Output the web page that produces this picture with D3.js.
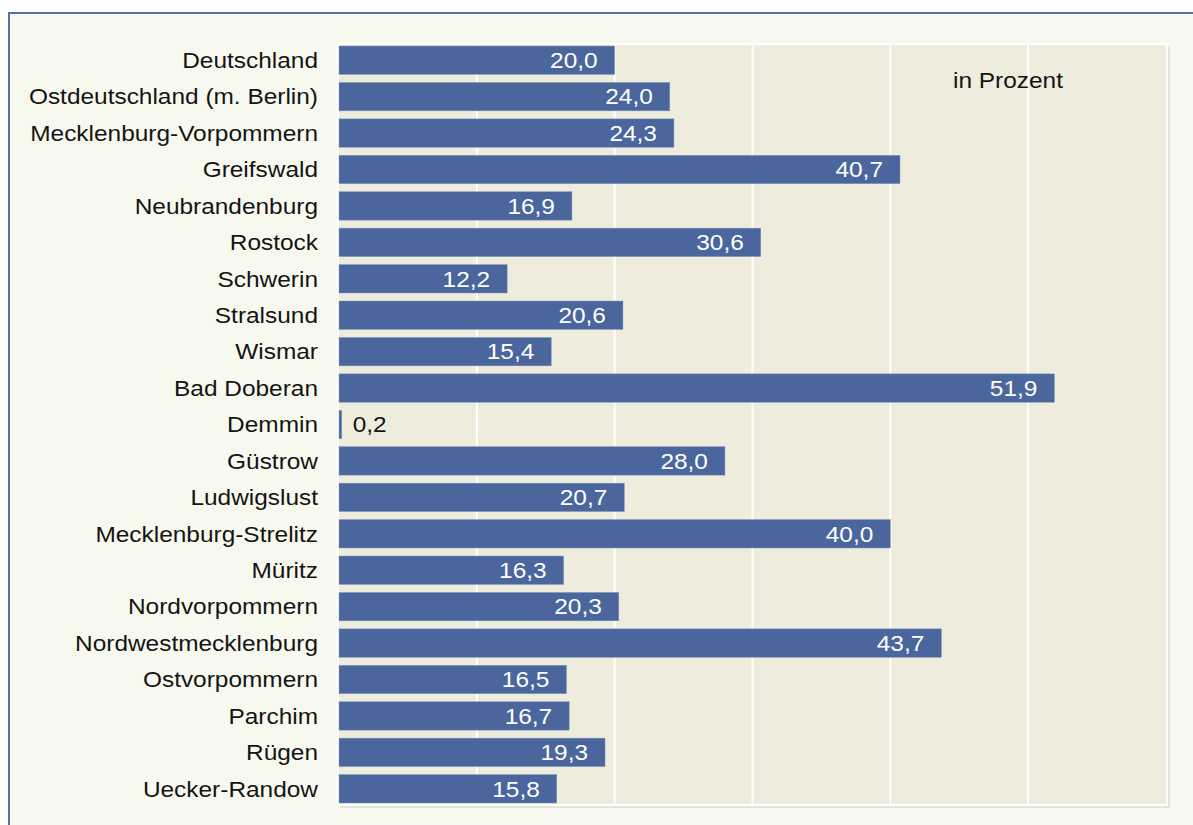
<!DOCTYPE html>
<html>
<head>
  <meta charset="utf-8">
  <title>in Prozent</title>
  <script src="https://d3js.org/d3.v7.min.js"></script>
  <style>
    body { margin: 0; background: #fff; }
    svg text { font-family: "Liberation Sans", Arial, sans-serif; }
  </style>
</head>
<body>
<div id="chart"></div>
<script>

let categories = ["Deutschland", "Ostdeutschland (m. Berlin)", "Mecklenburg-Vorpommern",
  "Greifswald", "Neubrandenburg", "Rostock", "Schwerin", "Stralsund", "Wismar",
  "Bad Doberan", "Demmin", "Güstrow", "Ludwigslust", "Mecklenburg-Strelitz", "Müritz",
  "Nordvorpommern", "Nordwestmecklenburg", "Ostvorpommern", "Parchim", "Rügen", "Uecker-Randow"];

let values = [20.0, 24.0, 24.3, 40.7, 16.9, 30.6, 12.2, 20.6, 15.4, 51.9, 0.2,
  28.0, 20.7, 40.0, 16.3, 20.3, 43.7, 16.5, 16.7, 19.3, 15.8];

let gridTicks = [10, 20, 30, 40, 50];

let width = 1193,
    height = 825;

let svg = d3.select("#chart").append("svg")
    .attr("width", width)
    .attr("height", height);

// outer frame
svg.append("rect")
    .attr("x", 9).attr("y", 13)
    .attr("width", width + 20).attr("height", height + 20)
    .attr("fill", "#f8f9ee")
    .attr("stroke", "#5670a8")
    .attr("stroke-width", 2);

let x = d3.scaleLinear().domain([0, 60]).range([339, 1166]);
let y = d3.scaleBand().domain(categories).range([42, 807]).paddingInner(0.22).paddingOuter(0.11);

// plot area with shadow
svg.append("rect")
    .attr("x", 340).attr("y", 46)
    .attr("width", 1170 - 340).attr("height", 808 - 46)
    .attr("fill", "#e4e5d8");
svg.append("rect")
    .attr("x", 338).attr("y", 44)
    .attr("width", 1167 - 338).attr("height", 805 - 44)
    .attr("fill", "#eeecdd")
    .attr("stroke", "#ffffff")
    .attr("stroke-width", 2);

svg.append("g")
  .selectAll("line")
    .data(gridTicks)
  .enter().append("line")
    .attr("x1", d => x(d)).attr("x2", d => x(d))
    .attr("y1", 44).attr("y2", 805)
    .attr("stroke", "#ffffff")
    .attr("stroke-width", 2);

// bars
svg.append("g")
  .selectAll("rect")
    .data(values)
  .enter().append("rect")
    .attr("x", x(0))
    .attr("y", (d, i) => y(categories[i]))
    .attr("width", d => x(d) - x(0))
    .attr("height", y.bandwidth())
    .attr("fill", "#4a669d")
    .attr("stroke", "#8397c0")
    .attr("stroke-width", 0.5);

function stretch(sel) {
  // the original type is a bit wide, stretch it horizontally
  sel.each(function() {
    let w = this.getComputedTextLength();
    d3.select(this).attr("textLength", w * 1.11).attr("lengthAdjust", "spacingAndGlyphs");
  });
}

let fmt = d3.format(".1f");

// category labels
svg.append("g")
  .selectAll("text")
    .data(categories)
  .enter().append("text")
    .attr("x", 318)
    .attr("y", d => y(d) + y.bandwidth() / 2 + 7.8)
    .attr("text-anchor", "end")
    .attr("font-size", 22)
    .attr("fill", "#141414")
    .text(d => d)
    .call(stretch);

// value labels
svg.append("g")
  .selectAll("text")
    .data(values)
  .enter().append("text")
    .attr("x", d => d < 3 ? x(d) + 11 : x(d) - 17)
    .attr("y", (d, i) => y(categories[i]) + y.bandwidth() / 2 + 7.8)
    .attr("text-anchor", d => d < 3 ? "start" : "end")
    .attr("font-size", 22)
    .attr("fill", d => d < 3 ? "#141414" : "#ffffff")
    .text(d => fmt(d).replace(".", ","))
    .call(stretch);

svg.append("text")
    .attr("x", 953)
    .attr("y", 88)
    .attr("font-size", 22)
    .attr("fill", "#141414")
    .text("in Prozent")
    .call(stretch);

</script>
</body>
</html>
